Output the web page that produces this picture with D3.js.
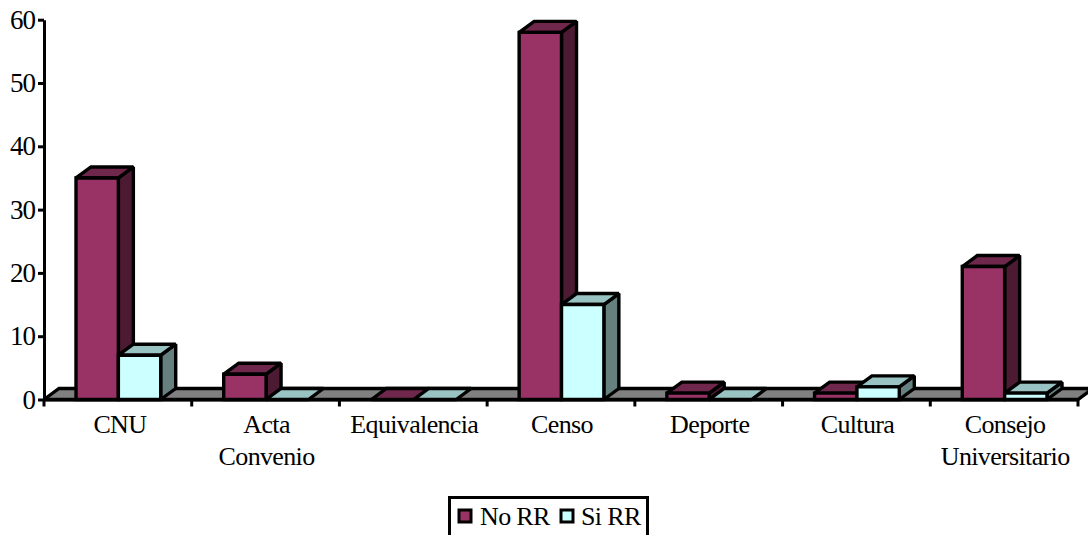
<!DOCTYPE html>
<html><head><meta charset="utf-8">
<script src="https://cdn.jsdelivr.net/npm/d3@7/dist/d3.min.js"></script>
<style>html,body{margin:0;padding:0;background:#fff;overflow:hidden}svg{display:block}
text{font-family:"Liberation Serif",serif;fill:#000}</style></head><body>
<script>
const categories=[["CNU"],["Acta","Convenio"],["Equivalencia"],["Censo"],["Deporte"],["Cultura"],["Consejo","Universitario"]];
const categoryKeys=["CNU","Acta Convenio","Equivalencia","Censo","Deporte","Cultura","Consejo Universitario"];
const seriesNames=["No RR","Si RR"];
const noRR=[35,4,0,58,1,1,21];
const siRR=[7,0,0,15,0,2,1];
const yTicks=[0,10,20,30,40,50,60];
const palette={
 "No RR":{front:"#993366",top:"#70274c",side:"#4d1a33"},
 "Si RR":{front:"#ccffff",top:"#99c2c2",side:"#668080"}};

const W=1088,H=535,dx=15,dy=11,ink=3.4;
const svg=d3.select("body").append("svg").attr("width",W).attr("height",H);
const x=d3.scaleBand().domain(categoryKeys).range([44,1078]);
const inner=d3.scaleBand().domain(seriesNames).range([32,x.bandwidth()-31]);
const y=d3.scaleLinear().domain([0,60]).range([399.5,19.7]);
const line=d3.line();
const poly=(pts,fill,sw=ink)=>svg.append("path").attr("d",line(pts)+"Z").attr("fill",fill)
  .attr("stroke","#000").attr("stroke-width",sw).attr("stroke-linejoin","miter").attr("stroke-miterlimit",1.5);

// floor
poly([[x.range()[0],y(0)],[x.range()[0]+dx,y(0)-dy],[x.range()[1]+dx,y(0)-dy],[x.range()[1],y(0)]],"#808080");

// bars
const values={"No RR":noRR,"Si RR":siRR};
categoryKeys.forEach((c,i)=>seriesNames.forEach(s=>{
  const v=values[s][i],col=palette[s];
  const x0=x(c)+inner(s),x1=x0+inner.bandwidth(),yt=y(v),yb=y(0);
  if(v>0) poly([[x1,yb],[x1+dx,yb-dy],[x1+dx,yt-dy],[x1,yt]],col.side);
  poly([[x0,yt],[x0+dx,yt-dy],[x1+dx,yt-dy],[x1,yt]],col.top);
  if(v>0) poly([[x0,yb],[x0,yt],[x1,yt],[x1,yb]],col.front);
}));

// axes
const yAxis=d3.axisLeft(y).tickValues(yTicks).tickSize(6).tickPadding(3).tickSizeOuter(0);
const gy=svg.append("g").attr("transform","translate(44,0)").call(yAxis);
gy.selectAll("text").attr("font-size",27).attr("font-family","Liberation Serif").attr("letter-spacing","-1").attr("fill","#000");
const xAxis=d3.axisBottom(x).tickValues([]).tickSizeOuter(0);
const gx=svg.append("g").attr("transform",`translate(0,${y(0)})`).call(xAxis);
svg.selectAll(".domain").attr("stroke","#000").attr("stroke-width",3);
gy.selectAll("line").attr("stroke","#000").attr("stroke-width",3);
// category boundary ticks
const edges=categoryKeys.map(c=>x(c)).concat([x.range()[1]]);
svg.append("g").selectAll("line").data(edges).join("line")
  .attr("x1",d=>d).attr("x2",d=>d).attr("y1",y(0)).attr("y2",y(0)+7)
  .attr("stroke","#000").attr("stroke-width",3);

// category labels
categoryKeys.forEach((c,i)=>{
  categories[i].forEach((t,j)=>svg.append("text").text(t)
    .attr("x",x(c)+x.bandwidth()/2+(i==0?2:1)).attr("y",433+j*32)
    .attr("text-anchor","middle").attr("font-size",26).attr("letter-spacing","-0.65"));
});

// legend
svg.append("rect").attr("x",449.5).attr("y",497.5).attr("width",198).attr("height",40)
  .attr("fill","#fff").attr("stroke","#000").attr("stroke-width",3);
const lx=[459,561],tx=[480,581];
seriesNames.forEach((s,i)=>{
  svg.append("rect").attr("x",lx[i]).attr("y",510).attr("width",12).attr("height",12)
    .attr("fill",palette[s].front).attr("stroke","#000").attr("stroke-width",3);
  svg.append("text").text(s).attr("x",tx[i]).attr("y",525).attr("font-size",26).attr("letter-spacing","-0.65");
});
</script></body></html>
